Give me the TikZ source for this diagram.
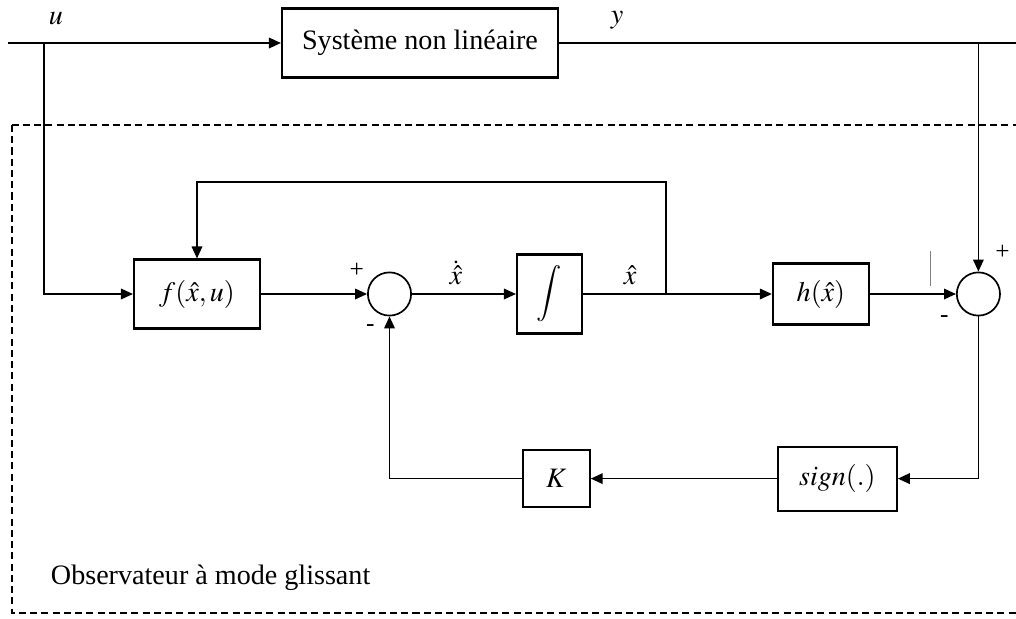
\documentclass[tikz,border=0pt]{standalone}
\usepackage{mathptmx}
\usepackage{fontspec}
\setmainfont{Liberation Serif}
\usepackage{tikz}
\usetikzlibrary{arrows.meta, positioning, calc}

\begin{document}
\begin{tikzpicture}[
    font=\fontsize{20}{24}\selectfont,
    block/.style={rectangle, draw, line width=1.5pt, inner sep=0pt, align=center},
    sum/.style={circle, draw, line width=1.2pt, minimum size=1.08cm, inner sep=0pt},
    arrow/.style={-{Triangle[length=8.5pt, width=7.5pt]}, line width=1.15pt},
    wire/.style={line width=1.15pt},
    sgn/.style={font=\fontsize{18}{18}\selectfont, inner sep=0pt},
    lbl/.style={inner sep=1pt},
    obsbox/.style={draw, line width=1.3pt, dash pattern=on 5pt off 3pt}
]
\useasboundingbox (0,0) rectangle (25.4,-15.475);
\clip (0,0) rectangle (25.4,-15.475);

% systeme
\coordinate (uin) at (0.2,-1.075);
\coordinate (ubr) at (1.1,-1.075);
\node[block, minimum width=6.9cm, minimum height=1.725cm] (sys) at (10.5,-1.075) {Système non linéaire};
\coordinate (yout) at (25.5,-1.075);

% observateur
\node[block, minimum width=3.15cm, minimum height=1.725cm] (fx) at (4.925,-7.35) {$f(\hat{x},u)$};
\node[sum, right=2.65cm of fx] (sum1) {};
\node[block, minimum width=1.625cm, minimum height=1.975cm, right=2.6cm of sum1] (int) {$\displaystyle\int$};
\node[block, minimum width=2.4cm, minimum height=1.525cm, right=4.72cm of int] (h) {$h(\hat{x})$};
\node[sum, right=2.15cm of h] (sum2) {};
\node[block, minimum width=2.975cm, minimum height=1.6cm, below=3cm of h, xshift=0.41cm] (sign) {$\mathit{sign}(.)$};
\node[block, minimum width=1.675cm, minimum height=1.425cm, left=4.65cm of sign] (K) {$K$};

\coordinate[right=2.075cm of int.east] (xbr);
\coordinate (xtop) at ([yshift=2.8cm]xbr);
\coordinate (ybr) at (sum2 |- sys.east);

% labels
\node[lbl] (ulbl) at ([xshift=0.3cm, yshift=0.62cm]ubr) {$u$};
\node[lbl] (ylbl) at ([xshift=1.45cm, yshift=0.58cm]sys.east) {$y$};
\node[sgn] (p1) at ([xshift=-0.82cm, yshift=0.6cm]sum1.center) {+};
\node[sgn] (m1) at ([xshift=-0.48cm, yshift=-0.85cm]sum1.center) {-};
\node[sgn] (p2) at ([xshift=0.6cm, yshift=1.05cm]sum2.center) {+};
\node[sgn] (m2) at ([xshift=-0.85cm, yshift=-0.62cm]sum2.center) {-};
\node[anchor=west] (obs) at (1.15,-14.45) {Observateur à mode glissant};

% liaisons
\draw[arrow] (uin) -- (sys);
\draw[wire] (sys) -- (yout);
\draw[arrow] (ubr) |- (fx.west);
\draw[arrow] (fx) -- (sum1);
\draw[arrow] (sum1) -- node[lbl, above=5pt, xshift=-0.2cm] {$\dot{\hat{x}}$} (int);
\draw[arrow] (int) -- node[lbl, pos=0.25, above=5pt] {$\hat{x}$} (h);
\draw[arrow] (xbr) -- (xtop) -| (fx.north);
\draw[arrow] (h) -- (sum2);
\draw[arrow] (ybr) -- (sum2.north);
\draw[arrow] (sum2.south) |- (sign.east);
\draw[arrow] (sign) -- (K);
\draw[arrow] (K.west) -| (sum1.south);
\draw[line width=0.7pt, gray] ([xshift=-1.2cm, yshift=0.2cm]sum2.center) -- ++(0,0.875);

\draw[obsbox] (0.3,-3.125) rectangle (26,-15.325);
\end{tikzpicture}
\end{document}
